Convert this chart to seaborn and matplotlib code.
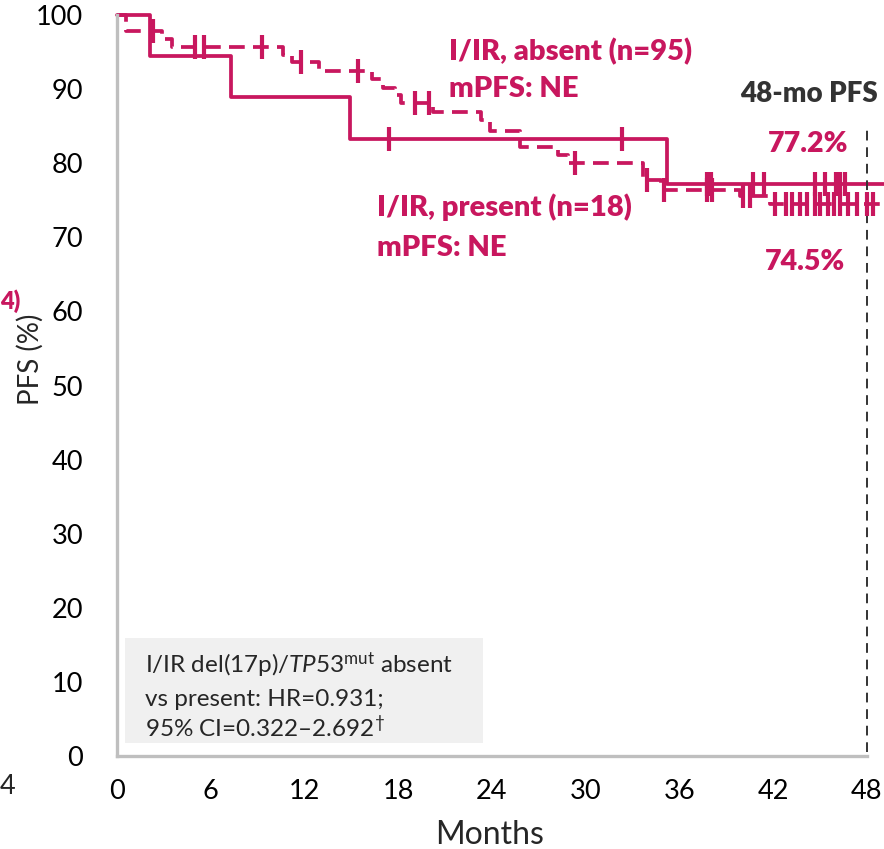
import numpy as np
import pandas as pd
import matplotlib
matplotlib.use("Agg")
import matplotlib.pyplot as plt
from matplotlib.patches import Rectangle
import seaborn as sns

# ---- Kaplan-Meier data (months, PFS %) ----
present_times = [0, 2.1, 7.3, 14.9, 35.2]
present_surv = [100, 94.4, 88.9, 83.3, 77.2]
present_censor = [17.4, 32.3, 37.8, 38.0, 40.7, 41.4, 44.7, 45.3, 46.0, 46.3, 46.6]

absent_times = [0, 0.6, 2.9, 3.5, 10.6, 11.2, 12.9, 16.3, 17.0, 17.8, 18.2,
                20.2, 23.3, 23.9, 25.8, 28.2, 28.9, 33.7, 34.8, 39.9, 41.8]
absent_surv = [100, 97.9, 96.8, 95.7, 94.6, 93.6, 92.4, 91.3, 90.2, 89.2, 88.1,
               86.9, 85.8, 84.3, 82.2, 81.1, 80.0, 77.7, 76.4, 75.6, 74.5]
absent_censor = [2.3, 5.0, 5.6, 9.3, 11.8, 15.4, 19.1, 20.0, 29.3, 33.9, 35.0,
                 37.8, 38.1, 40.1, 40.5, 42.1, 42.8, 43.2, 43.7, 44.2, 44.7,
                 45.0, 45.5, 45.9, 46.3, 46.8, 47.4, 48.0, 48.4]

followup_end = 49.1
landmark = 48
x_ticks = [0, 6, 12, 18, 24, 30, 36, 42, 48]
y_ticks = [0, 10, 20, 30, 40, 50, 60, 70, 80, 90, 100]

present_label = "I/IR, present (n=18)"
absent_label = "I/IR, absent (n=95)"
present_pfs48 = "77.2%"
absent_pfs48 = "74.5%"

W, H = 884, 849
PINK = "#C8175E"
GREY = "#BFBFBF"
DARK = "#333333"

sns.set_theme(style="white")
plt.rcParams["font.family"] = ["Lato", "DejaVu Sans"]
plt.rcParams["mathtext.fontset"] = "custom"
plt.rcParams["mathtext.rm"] = "Lato"
plt.rcParams["mathtext.it"] = "Lato:italic"

fig = plt.figure(figsize=(W / 100, H / 100), dpi=100)
ax = fig.add_axes([117 / W, 1 - 756 / H, 767 / W, 741 / H])


def curve(times, surv):
    return pd.DataFrame({"t": list(times) + [followup_end],
                         "s": list(surv) + [surv[-1]]})


def censor_frame(times, surv, cens):
    idx = np.searchsorted(times, cens, side="right") - 1
    return pd.DataFrame({"t": cens, "s": np.asarray(surv)[idx]})


sns.lineplot(data=curve(present_times, present_surv), x="t", y="s",
             drawstyle="steps-post", estimator=None, sort=False,
             color=PINK, lw=2.7, ax=ax, clip_on=False)
sns.lineplot(data=curve(absent_times, absent_surv), x="t", y="s",
             drawstyle="steps-post", estimator=None, sort=False,
             color=PINK, lw=2.7, linestyle=(0, (4.2, 2.2)), ax=ax, clip_on=False)

for times, surv, cens in [(present_times, present_surv, present_censor),
                          (absent_times, absent_surv, absent_censor)]:
    sns.scatterplot(data=censor_frame(times, surv, cens), x="t", y="s",
                    marker="|", s=300, linewidth=3.0, color=PINK, ax=ax,
                    clip_on=False, zorder=3)

# 48-month landmark
ax.vlines(landmark, 0.6, 85.2, colors=DARK, lw=1.4, linestyles=(0, (5, 3.5)))

ax.set_xlim(0, followup_end)
ax.set_ylim(0, 100)
ax.set_xticks(x_ticks)
ax.set_yticks(y_ticks)
ax.set_xlabel("")
ax.set_ylabel("")
for side in ["top", "right"]:
    ax.spines[side].set_visible(False)
for side in ["left", "bottom"]:
    ax.spines[side].set_color(GREY)
    ax.spines[side].set_linewidth(2.4)
ax.spines["bottom"].set_bounds(0, landmark)
ax.tick_params(axis="both", direction="out", length=9.5, width=2.4,
               color=GREY, labelsize=19.5, labelcolor="black")
ax.tick_params(axis="y", pad=15)
ax.tick_params(axis="x", pad=7)


def ftext(x, y, s, **kw):
    return fig.text(x / W, 1 - y / H, s, **kw)


ftext(490, 835, "Months", ha="center", va="center", fontsize=23)
ftext(30, 359, "PFS (%)", ha="center", va="center", rotation=90, fontsize=20)

# curve annotations
bold = dict(color=PINK, fontsize=21, fontweight="heavy", va="baseline")
ftext(449, 60, absent_label, **bold)
ftext(449, 97, "mPFS: NE", **bold)
ftext(377, 216, present_label, **bold)
ftext(377, 256, "mPFS: NE", **bold)
ftext(809, 102, "48-mo PFS", color=DARK, fontsize=20, fontweight="heavy",
      va="baseline", ha="center")
ftext(808, 152, present_pfs48, color=PINK, fontsize=20.5, fontweight="heavy",
      va="baseline", ha="center")
ftext(805, 270, absent_pfs48, color=PINK, fontsize=20.5, fontweight="heavy",
      va="baseline", ha="center")

# neighbouring panel fragments at the left edge
ftext(0, 309, "4)", color=PINK, fontsize=17, fontweight="heavy", va="baseline", ha="left")
ftext(0, 787, "4", fontsize=19.5, va="center", ha="left")

# hazard ratio box
fig.patches.append(Rectangle((125 / W, 1 - 743 / H), (483 - 125) / W, (743 - 638) / H,
                             transform=fig.transFigure, facecolor="#F0F0F0",
                             edgecolor="none", zorder=0))
ftext(145, 673, r"I/IR del(17p)/$\it{TP53}$$^{\rm mut}$ absent", fontsize=17.5, va="baseline")
ftext(145, 706, "vs present: HR=0.931;", fontsize=17.5, va="baseline")
ftext(145, 737, "95% CI=0.322\u20132.692$^{\u2020}$", fontsize=17.5, va="baseline")

fig.savefig("out.png", dpi=100)
